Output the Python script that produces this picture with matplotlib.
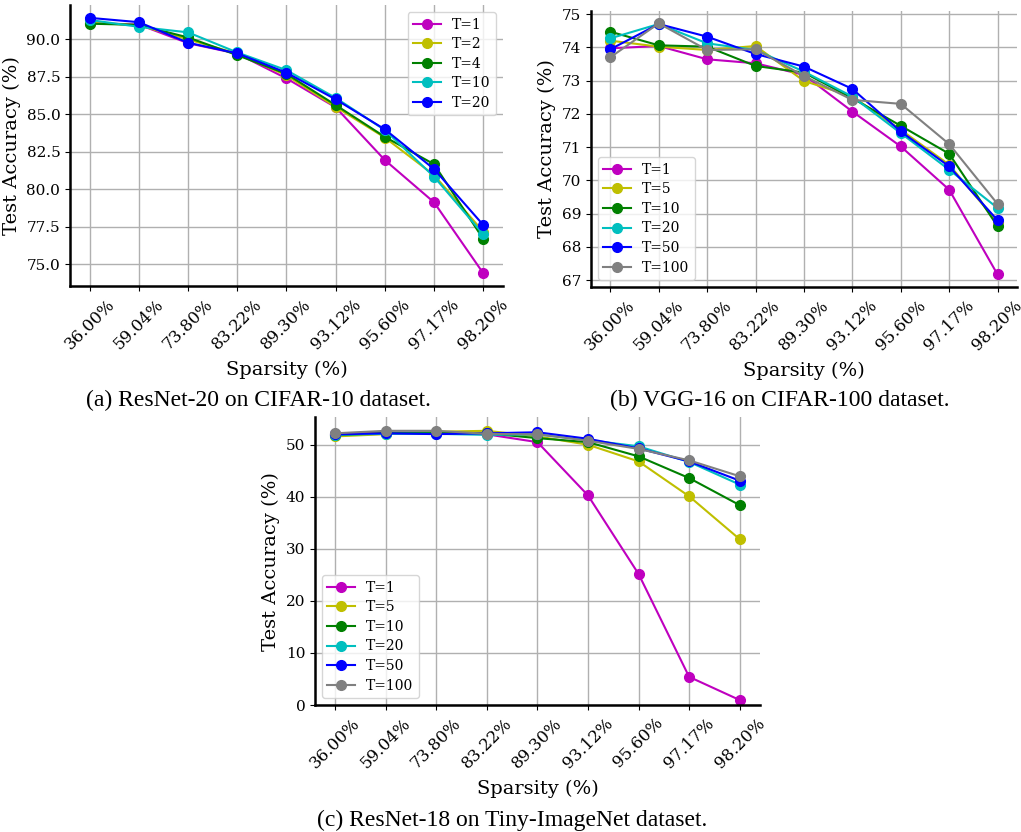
import numpy as np
import matplotlib
matplotlib.use('Agg')
import matplotlib.pyplot as plt

matplotlib.rc('font', **{'family': 'serif', 'serif': ['DejaVu Serif']})

sparsity = ['36.00%', '59.04%', '73.80%', '83.22%', '89.30%',
            '93.12%', '95.60%', '97.17%', '98.20%']

# (a) ResNet-20 / CIFAR-10
a_labels = ['T=1', 'T=2', 'T=4', 'T=10', 'T=20']
a_t1 = [91.10, 90.99, 89.75, 89.05, 87.40, 85.47, 81.95, 79.13, 74.40]
a_t2 = [91.12, 90.95, 90.00, 89.05, 87.60, 85.50, 83.45, 80.95, 77.17]
a_t4 = [91.05, 90.97, 90.13, 88.95, 87.70, 85.62, 83.50, 81.67, 76.69]
a_t10 = [91.30, 90.84, 90.47, 89.13, 87.95, 86.10, 83.95, 80.84, 77.00]
a_t20 = [91.44, 91.15, 89.78, 89.07, 87.78, 86.00, 84.00, 81.35, 77.62]

# (b) VGG-16 / CIFAR-100
b_labels = ['T=1', 'T=5', 'T=10', 'T=20', 'T=50', 'T=100']
b_t1 = [73.97, 74.04, 73.64, 73.52, 73.17, 72.07, 71.02, 69.72, 67.17]
b_t5 = [74.20, 74.02, 73.92, 74.04, 72.99, 72.52, 71.52, 70.47, 68.74]
b_t10 = [74.47, 74.06, 74.02, 73.44, 73.24, 72.47, 71.64, 70.80, 68.62]
b_t20 = [74.27, 74.70, 74.12, 73.92, 73.27, 72.52, 71.42, 70.32, 69.17]
b_t50 = [73.94, 74.70, 74.32, 73.80, 73.42, 72.75, 71.47, 70.42, 68.80]
b_t100 = [73.70, 74.72, 73.92, 73.94, 73.14, 72.42, 72.30, 71.09, 69.29]

# (c) ResNet-18 / Tiny-ImageNet
c_labels = ['T=1', 'T=5', 'T=10', 'T=20', 'T=50', 'T=100']
c_t1 = [52.1, 52.3, 52.3, 52.0, 50.5, 40.26, 25.17, 5.41, 0.96]
c_t5 = [51.6, 52.04, 52.5, 52.68, 51.6, 50.0, 46.8, 40.1, 31.85]
c_t10 = [51.8, 52.3, 52.3, 52.2, 51.27, 50.5, 47.77, 43.6, 38.4]
c_t20 = [51.9, 52.1, 52.1, 51.9, 52.0, 50.9, 49.7, 46.7, 42.35]
c_t50 = [52.0, 52.2, 52.04, 52.2, 52.4, 51.15, 49.3, 46.8, 43.1]
c_t100 = [52.2, 52.68, 52.68, 52.1, 52.0, 50.77, 49.2, 47.0, 43.95]

colors5 = ['m', 'y', 'g', 'c', 'b']
colors6 = ['m', 'y', 'g', 'c', 'b', 'gray']

fig = plt.figure(figsize=(10.21, 8.32), dpi=100)
ax1 = fig.add_axes([0.0686, 0.6562, 0.424, 0.3377])
ax2 = fig.add_axes([0.5788, 0.655, 0.4172, 0.332])
ax3 = fig.add_axes([0.3085, 0.1526, 0.4358, 0.346])

x = np.arange(len(sparsity))


def draw(ax, series, labels, colors, loc):
    for s, lab, c in zip(series, labels, colors):
        ax.plot(x, s, color=c, marker='o', markersize=7, linewidth=1.5, label=lab)
    ax.set_xticks(x)
    ax.set_xticklabels(sparsity, rotation=45, fontsize=12)
    ax.tick_params(axis='y', labelsize=11)
    ax.grid(True, color='#b0b0b0', linewidth=1)
    ax.set_axisbelow(True)
    ax.spines['top'].set_visible(False)
    ax.spines['right'].set_visible(False)
    ax.spines['left'].set_linewidth(1.8)
    ax.spines['bottom'].set_linewidth(1.8)
    ax.set_xlabel('Sparsity (%)', fontsize=14, labelpad=6)
    ax.set_ylabel('Test Accuracy (%)', fontsize=14)
    ax.legend(loc=loc, fontsize=10, labelspacing=0.4)


draw(ax1, [a_t1, a_t2, a_t4, a_t10, a_t20], a_labels, colors5, 'upper right')
draw(ax2, [b_t1, b_t5, b_t10, b_t20, b_t50, b_t100], b_labels, colors6, 'lower left')
draw(ax3, [c_t1, c_t5, c_t10, c_t20, c_t50, c_t100], c_labels, colors6, 'lower left')

ax1.set_yticks([75.0, 77.5, 80.0, 82.5, 85.0, 87.5, 90.0])
ax2.set_yticks(np.arange(67, 76, 1))
ax3.set_ylim(0, 55.3)

fig.text(258 / 1021, 1 - 400 / 832, '(a) ResNet-20 on CIFAR-10 dataset.',
         ha='center', va='center', fontsize=17, family='Liberation Serif')
fig.text(780 / 1021, 1 - 400 / 832, '(b) VGG-16 on CIFAR-100 dataset.',
         ha='center', va='center', fontsize=17, family='Liberation Serif')
fig.text(512 / 1021, 1 - 820 / 832, '(c) ResNet-18 on Tiny-ImageNet dataset.',
         ha='center', va='center', fontsize=17, family='Liberation Serif')

fig.savefig('out.png', dpi=100)
